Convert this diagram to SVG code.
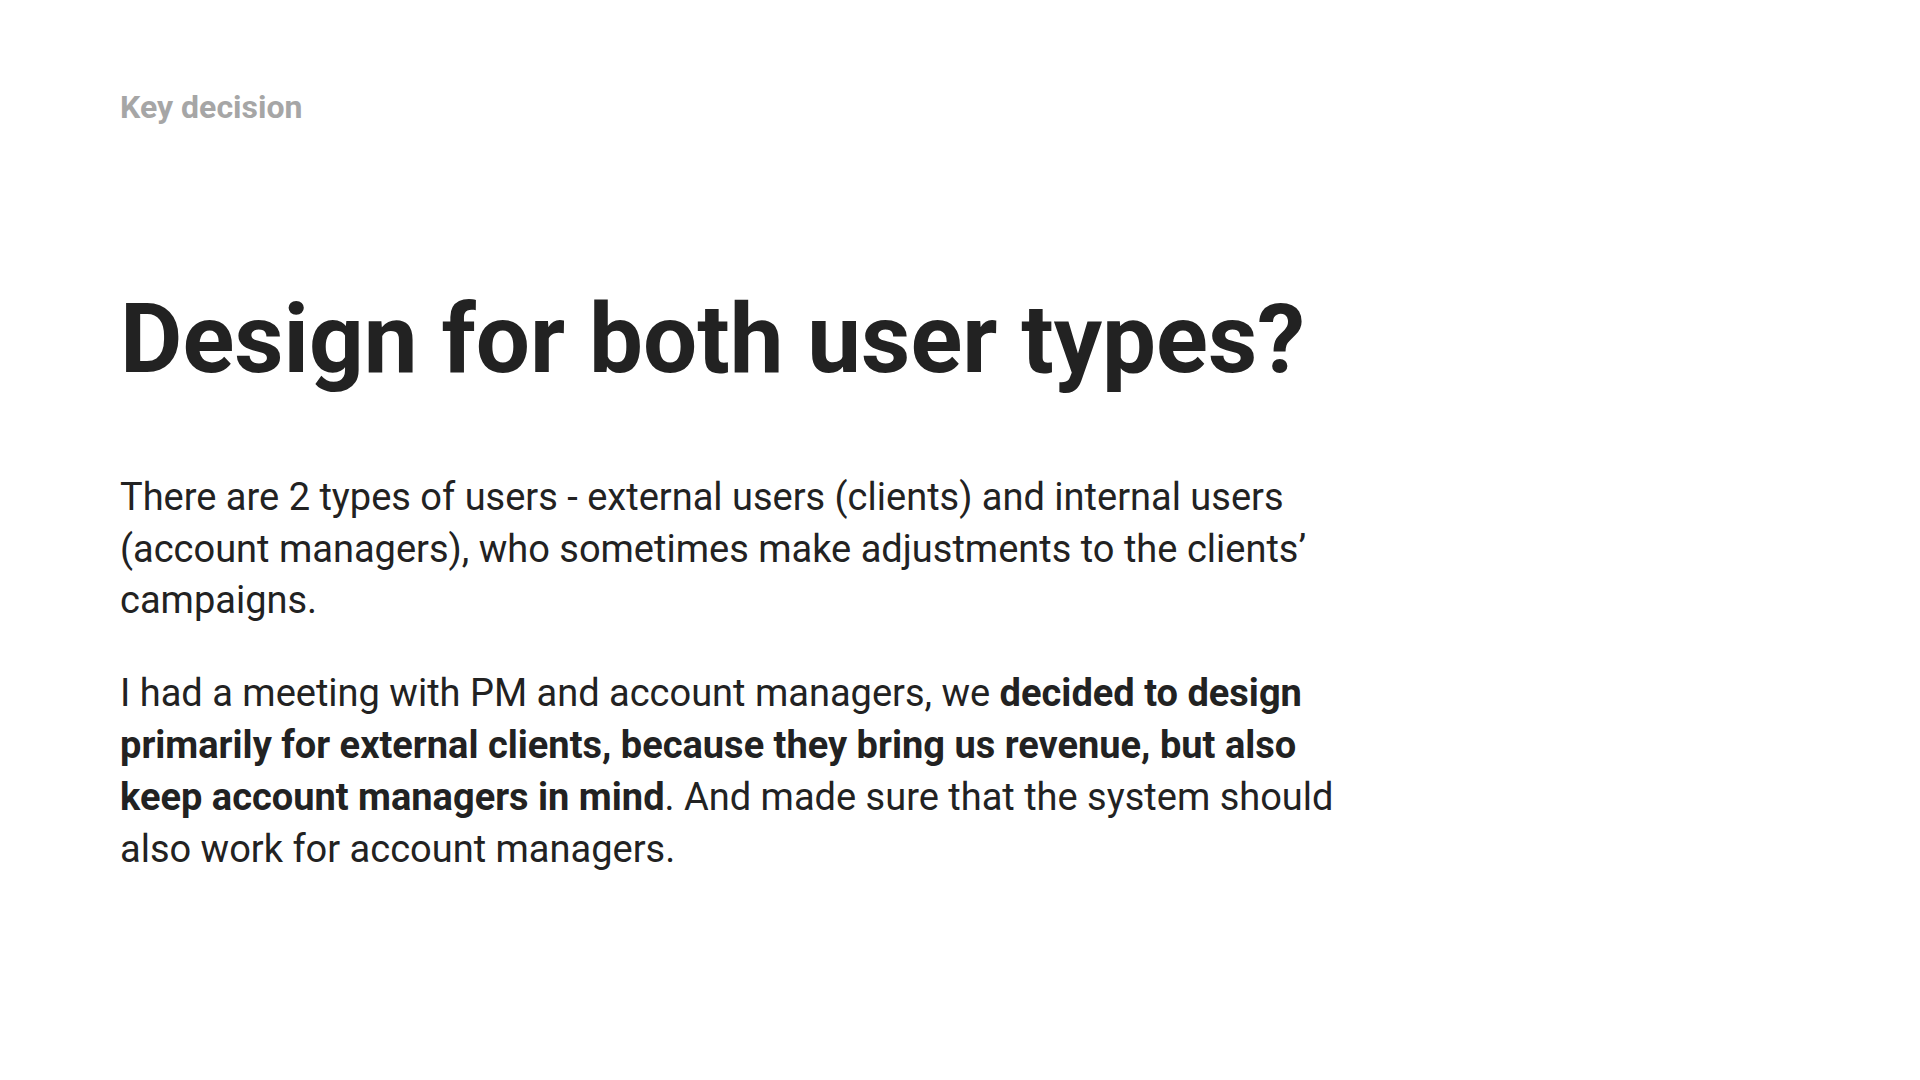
<svg xmlns="http://www.w3.org/2000/svg" width="1920" height="1080" viewBox="0 0 1920 1080">
<style>
.t{font-family:Roboto,"Liberation Sans",sans-serif;fill:#222}
.k{font-family:Roboto,"Liberation Sans",sans-serif;font-weight:700;font-size:32px;fill:#a6a6a6}
.h{font-weight:700;font-size:96px}
.p{font-size:38px}
.b{font-weight:700}
</style>
<rect width="1920" height="1080" fill="#fff"/>
<g id="eyebrow"><text class="k" x="120" y="118">Key decision</text></g>
<g id="title"><text class="t h" x="120" y="372">Design for both user types?</text></g>
<g id="para1">
<text class="t p" x="120" y="510">There are 2 types of users - external users (clients) and internal users</text>
<text class="t p" x="120" y="562">(account managers), who sometimes make adjustments to the clients’</text>
<text class="t p" x="120" y="613">campaigns.</text>
</g>
<g id="para2">
<text class="t p" x="120" y="706">I had a meeting with PM and account managers, we <tspan class="b">decided to design</tspan></text>
<text class="t p b" x="120" y="758">primarily for external clients, because they bring us revenue, but also</text>
<text class="t p" x="120" y="810"><tspan class="b">keep account managers in mind</tspan>. And made sure that the system should</text>
<text class="t p" x="120" y="862">also work for account managers.</text>
</g>
</svg>
